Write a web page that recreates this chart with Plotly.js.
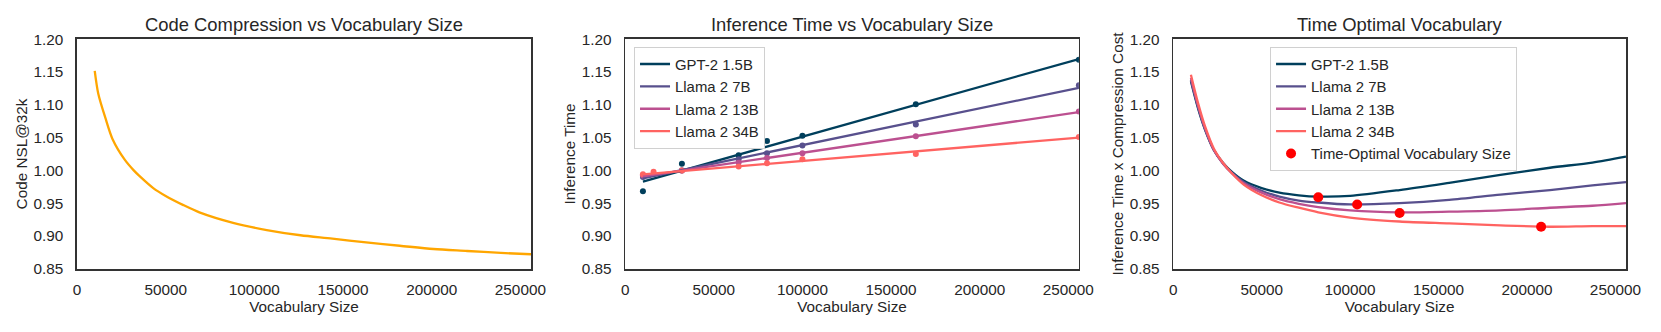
<!DOCTYPE html>
<html>
<head>
<meta charset="utf-8">
<script src="https://cdn.plot.ly/plotly-3.0.1.min.js"></script>
<style>html,body{margin:0;padding:0;background:#fff;}#chart{width:1661px;height:332px;}</style>
</head>
<body>
<div id="chart"></div>
<script>
// ---------- Panel 1: Code compression ----------
const nslVocab = [10000, 12000, 16000, 20000, 27000, 32000, 35000, 43000, 50000, 60000, 69000, 88000, 107000, 126000, 144000, 163000, 182000, 201000, 220000, 239000, 256000];
const codeNSL  = [1.152, 1.117, 1.080, 1.048, 1.016, 1.000, 0.992, 0.973, 0.961, 0.947, 0.936, 0.920, 0.909, 0.901, 0.896, 0.890, 0.885, 0.880, 0.877, 0.874, 0.872];

// ---------- Panel 2: Inference time ----------
const modelNames = ["GPT-2 1.5B", "Llama 2 7B", "Llama 2 13B", "Llama 2 34B"];
const timeVocab   = [10000, 32000, 64000, 80000, 100000, 164000, 256000];
const gpt2Time    = [0.968, 1.010, 1.023, 1.045, 1.053, 1.101, 1.169];
const llama7Time  = [0.990, 1.000, 1.017, 1.026, 1.038, 1.070, 1.130];
const llama13Time = [0.992, 1.000, 1.012, 1.019, 1.026, 1.052, 1.090];
const llama34Vocab = [10000, 16000, 32000, 64000, 80000, 100000, 164000, 256000];
const llama34Time  = [0.994, 0.998, 1.000, 1.006, 1.011, 1.017, 1.025, 1.051];
const fitVocab    = [10000, 256000];
const gpt2Fit     = [0.983, 1.170];
const llama7Fit   = [0.988, 1.126];
const llama13Fit  = [0.991, 1.089];
const llama34Fit  = [0.994, 1.050];

// ---------- Panel 3: Time x compression ----------
const costVocab   = [10000, 14000, 18000, 23000, 28000, 33000, 40000, 50000, 60000, 71000, 82000, 100000, 128000, 156000, 185000, 213000, 237000, 256000];
const gpt2Cost    = [1.136, 1.095, 1.062, 1.031, 1.012, 0.998, 0.984, 0.973, 0.966, 0.962, 0.960, 0.961, 0.970, 0.981, 0.993, 1.004, 1.012, 1.021];
const llama7Cost  = [1.138, 1.097, 1.063, 1.031, 1.011, 0.997, 0.982, 0.969, 0.960, 0.954, 0.951, 0.948, 0.950, 0.955, 0.963, 0.970, 0.977, 0.982];
const llama13Cost = [1.141, 1.099, 1.064, 1.031, 1.011, 0.996, 0.980, 0.966, 0.956, 0.949, 0.944, 0.939, 0.936, 0.937, 0.939, 0.943, 0.946, 0.950];
const llama34Cost = [1.146, 1.103, 1.067, 1.033, 1.012, 0.996, 0.978, 0.962, 0.951, 0.943, 0.936, 0.928, 0.922, 0.919, 0.916, 0.914, 0.915, 0.915];
const optimalVocab = [82000, 104000, 128000, 208000];
const optimalCost  = [0.959, 0.948, 0.935, 0.914];

const colors = ["#003f5c", "#58508d", "#bc5090", "#ff6361"];
const FONT = "Liberation Sans, Arial, Helvetica, sans-serif";
const TXT = "#262626";
const LW = 2.3;

const traces = [];
traces.push({x: nslVocab, y: codeNSL, type: "scatter", mode: "lines", line: {color: "#ffa600", width: LW, shape: "spline", smoothing: 0.8}, showlegend: false, xaxis: "x", yaxis: "y"});

const times = [gpt2Time, llama7Time, llama13Time, llama34Time];
const timeX = [timeVocab, timeVocab, timeVocab, llama34Vocab];
const fits = [gpt2Fit, llama7Fit, llama13Fit, llama34Fit];
for (let i = 0; i < 4; i++) {
  traces.push({x: timeX[i], y: times[i], type: "scatter", mode: "markers", marker: {color: colors[i], size: 6}, showlegend: false, xaxis: "x2", yaxis: "y2"});
}
for (let i = 0; i < 4; i++) {
  traces.push({x: fitVocab, y: fits[i], type: "scatter", mode: "lines", name: modelNames[i], line: {color: colors[i], width: LW}, legend: "legend", xaxis: "x2", yaxis: "y2"});
}
const costs = [gpt2Cost, llama7Cost, llama13Cost, llama34Cost];
for (let i = 0; i < 4; i++) {
  traces.push({x: costVocab, y: costs[i], type: "scatter", mode: "lines", name: modelNames[i], line: {color: colors[i], width: LW, shape: "spline", smoothing: 0.8}, legend: "legend2", xaxis: "x3", yaxis: "y3"});
}
traces.push({x: optimalVocab, y: optimalCost, type: "scatter", mode: "markers", name: "Time-Optimal Vocabulary Size", marker: {color: "#ff0000", size: 10}, legend: "legend2", xaxis: "x3", yaxis: "y3"});

function xax(domain, anchor) {
  return {domain: domain, anchor: anchor, range: [0, 256000], tickvals: [0, 50000, 100000, 150000, 200000, 250000], ticktext: ["0", "50000", "100000", "150000", "200000", "250000"],
    showline: true, mirror: true, linecolor: "#333333", linewidth: 1.6, showgrid: false, zeroline: false, ticks: "", ticklabelstandoff: 6,
    tickfont: {family: FONT, size: 15.3, color: TXT},
    title: {text: "Vocabulary Size", font: {family: FONT, size: 15.3, color: TXT}, standoff: 4}};
}
function yax(anchor, title) {
  return {domain: [0, 1], anchor: anchor, range: [0.8495, 1.2005], tickvals: [0.85, 0.90, 0.95, 1.00, 1.05, 1.10, 1.15, 1.20], ticktext: ["0.85", "0.90", "0.95", "1.00", "1.05", "1.10", "1.15", "1.20"],
    showline: true, mirror: true, linecolor: "#333333", linewidth: 1.6, showgrid: false, zeroline: false, ticks: "", ticklabelstandoff: 9,
    tickfont: {family: FONT, size: 15.3, color: TXT},
    title: {text: title, font: {family: FONT, size: 15.3, color: TXT}, standoff: 2}};
}

const d1 = [0, 0.2931], d2 = [0.3539, 0.6468], d3 = [0.7077, 1.0];
function titleAnn(text, d) {
  return {text: text, xref: "paper", yref: "paper", x: (d[0] + d[1]) / 2, y: 1.065, xanchor: "center", yanchor: "middle", showarrow: false, font: {family: FONT, size: 18.4, color: TXT}};
}
const legendBase = {bgcolor: "#ffffff", bordercolor: "#d0d0d0", borderwidth: 1, font: {family: FONT, size: 14.9, color: TXT}, xanchor: "left", yanchor: "top", tracegroupgap: 0};

const layout = {
  width: 1661, height: 332,
  margin: {l: 77, r: 35, t: 39, b: 63},
  paper_bgcolor: "#ffffff", plot_bgcolor: "#ffffff",
  font: {family: FONT, color: TXT, size: 15.3},
  xaxis: xax(d1, "y"), yaxis: yax("x", "Code NSL@32k"),
  xaxis2: xax(d2, "y2"), yaxis2: yax("x2", "Inference Time"),
  xaxis3: xax(d3, "y3"), yaxis3: yax("x3", "Inference Time x Compression Cost"),
  legend: Object.assign({}, legendBase, {x: 0.3596, y: 0.966}),
  legend2: Object.assign({}, legendBase, {x: 0.7702, y: 0.966}),
  annotations: [
    titleAnn("Code Compression vs Vocabulary Size", d1),
    titleAnn("Inference Time vs Vocabulary Size", d2),
    titleAnn("Time Optimal Vocabulary", d3)
  ],
  showlegend: true
};

Plotly.newPlot("chart", traces, layout, {staticPlot: true, displayModeBar: false});
</script>
</body>
</html>
